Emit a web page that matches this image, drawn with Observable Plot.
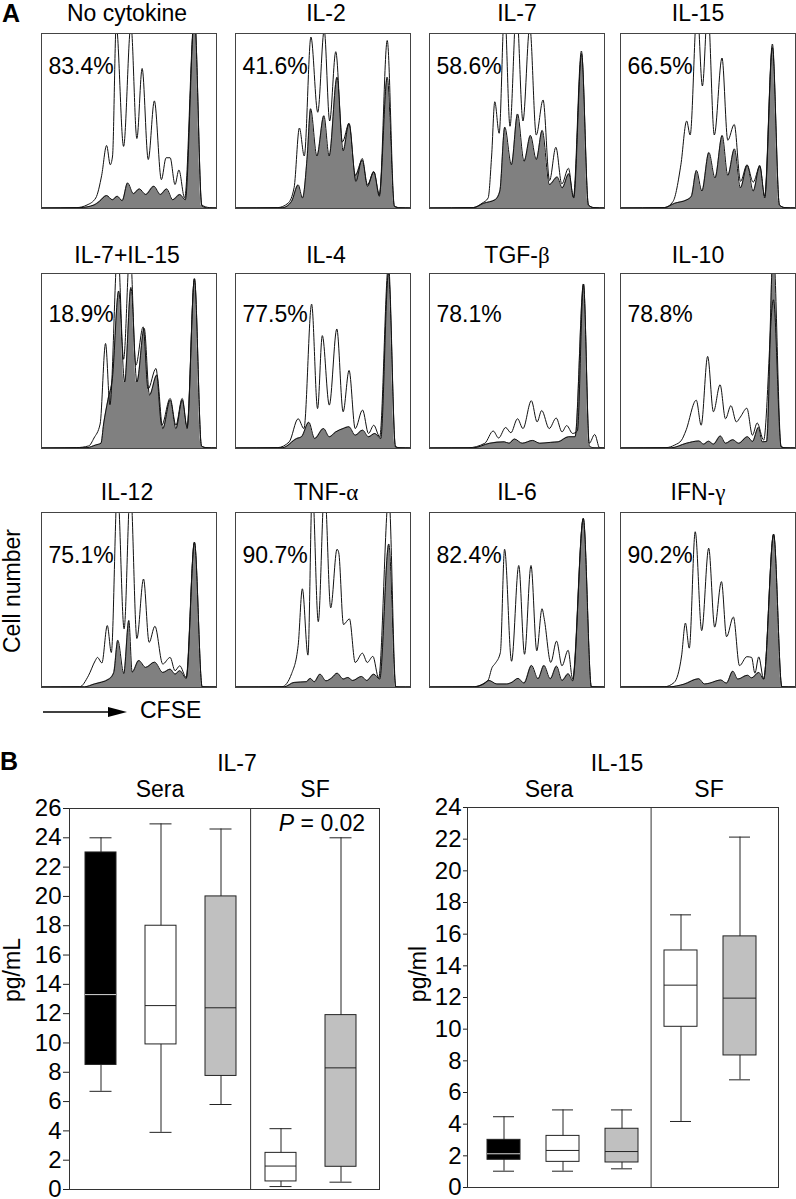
<!DOCTYPE html>
<html><head><meta charset="utf-8">
<script src="https://cdn.jsdelivr.net/npm/d3@7"></script>
<script src="https://cdn.jsdelivr.net/npm/@observablehq/plot@0.6"></script>
<style>
body{margin:0;background:#fff;}
#root{position:relative;width:796px;height:1199px;overflow:hidden;background:#fff;}
</style></head><body><div id="root"></div>
<script>
// ---------- Panel A data ----------
const panelTitles = ["No cytokine","IL-2","IL-7","IL-15","IL-7+IL-15","IL-4","TGF-β","IL-10","IL-12","TNF-α","IL-6","IFN-γ"];
const panelPercents = ["83.4%","41.6%","58.6%","66.5%","18.9%","77.5%","78.1%","78.8%","75.1%","90.7%","82.4%","90.2%"];

// CFSE channel (0-100) vs relative cell number (0-100); open (white) histograms
const outlineCurves = [
 [[0,0.3],[20,0.5],[26,2],[31,6],[34.4,19],[37.2,36],[39.3,25],[40.6,30],[42.7,105],[46.9,35.5],[51.1,105],[54.5,40],[57.5,80],[61,28],[64.5,61.5],[68.5,16.5],[71.2,29],[73.5,29],[76.3,13.7],[78.5,22],[81.8,6],[87.4,110],[91.6,2],[96,0.5],[100,0.3]],
 [[0,0.3],[24,0.5],[30,3],[33.5,12],[36.5,46],[39.3,30],[43.1,98],[47,55],[50.7,102],[53.8,50],[57.3,89.6],[61.1,38],[64.9,48.6],[68.8,15.5],[72.4,28.6],[75.4,13.7],[79.1,21],[82.2,7],[86.7,96],[90.8,1.3],[94,0.4],[100,0.3]],
 [[0,0.3],[25,0.5],[30,3],[33.5,6],[35.5,30],[37.3,61],[39.8,43],[42.9,115],[46,47],[49.7,115],[53.4,50],[57.3,104],[61,42],[64.9,62],[68.6,16],[72.2,35],[75.6,14],[79.4,23],[82.2,6.5],[86.8,90],[90.8,2],[94,0.5],[100,0.3]],
 [[0,0.3],[25,0.5],[30,4],[34.5,25],[37.8,50],[39.8,42],[43.8,115],[46.8,70],[49.9,115],[53.6,42],[58,86],[61.3,39],[65,48],[68.6,15.5],[72.3,25],[75.8,15],[79.6,24],[82.4,7],[86.8,94],[90.8,2],[94,0.5],[100,0.3]],
 [[0,0.3],[20,0.5],[27,1.5],[30,6],[33.5,14],[36.6,60],[39.1,25],[43.6,115],[46.9,51],[50.6,115],[53.9,47.6],[58.1,69.5],[60.9,34],[65.4,45.7],[68.7,13.3],[73.5,28.6],[76.8,13.3],[80.4,28.6],[83.2,12.4],[87.4,97],[91.4,1.5],[94,0.5],[100,0.3]],
 [[0,0.3],[24,0.5],[30.7,3.8],[35.8,17],[39.1,11.4],[43.5,82.5],[46.9,22.8],[49.6,64.5],[53.6,24.8],[57.9,68.3],[61.5,21],[64.9,44.6],[68.4,11.4],[72.6,22],[76,8.6],[79,13.3],[82.4,6.7],[87.4,105],[91.4,1],[94,0.4],[100,0.3]],
 [[0,0.3],[22,0.4],[31.6,3],[36.4,10],[39.5,6],[43.5,12],[46.5,9],[50.3,17],[53.4,11.4],[58.2,27.3],[61.5,15.2],[64.1,21.7],[68.4,11.4],[72.4,17.4],[75.7,9.5],[78.4,13.1],[81.8,8.6],[84.5,10],[88,94],[91.3,3],[94.4,8],[97.2,0.4],[100,0.3]],
 [[0,0.3],[26,0.5],[31,2],[34.9,4.8],[37.3,10],[43.3,27.6],[46.1,13.3],[49.8,52.6],[53.1,21],[56.9,36.4],[60,17],[63.1,24.5],[66.2,15.2],[68.5,18],[72.2,23],[75.4,7.6],[78.1,14.6],[81.8,4.8],[87.4,85],[91.8,1],[94,0.4],[100,0.3]],
 [[0,0.3],[21.8,0.4],[26.8,6.7],[30.7,15.3],[32,17.2],[34.5,14],[37.6,35.4],[39.9,20],[43.4,115],[47.2,33.5],[50.8,115],[54.5,28],[58.3,62],[61.5,25.8],[64.8,35],[69.3,13.4],[73.5,17.2],[76.3,9.6],[79,12.4],[82.7,5.7],[87.4,83],[91.8,0.4],[94,0.3],[100,0.3]],
 [[0,0.3],[26.5,0.4],[32.1,8],[35.8,24],[38.2,56.4],[41.4,18.5],[43.9,115],[47.3,37.6],[50.9,115],[54.4,45.5],[58,79],[59,77],[61.7,36],[65.1,39.2],[68.4,14.3],[72.5,19.6],[75.3,14.3],[78.5,17.8],[81.8,5.4],[87.6,110],[91.6,0.4],[94,0.3],[100,0.3]],
 [[0,0.3],[24.6,0.4],[33.3,3.9],[35.8,11.5],[37.5,13.7],[40.5,20],[42.9,79],[46.9,15],[51,69.7],[54.3,19],[58,69.7],[61.3,21],[64.3,45],[65.6,39],[69.3,14.3],[72.6,26.5],[75.7,12.4],[79.2,21.3],[81.8,4.8],[87.9,96.6],[92.5,0.4],[100,0.3]],
 [[0,0.3],[25,0.4],[30.7,2.9],[34.9,18],[37.1,36.8],[39.3,22.5],[42.7,89],[46.4,32.5],[50.4,79.6],[53.8,34.5],[57.7,60.5],[60.6,29],[64.5,40.3],[68,12.5],[72.2,17.6],[74.9,17.2],[76.8,8.2],[79,17.5],[81.8,4.8],[87.5,87.6],[92.2,0.4],[100,0.3]]
];

// filled (grey) histograms
const shadedCurves = [
 [[0,0.3],[22,0.5],[30,2],[33,4],[37.2,7.4],[40.5,5],[43.3,7],[46.1,4.5],[49.2,14.6],[52.5,8.5],[55.9,11.2],[59.5,8],[64.2,12.7],[67.9,8],[71.5,11.2],[75,5],[79,8],[82.2,5],[87.4,110],[91.6,1.5],[95,0.3],[100,0.3]],
 [[0,0.3],[27,0.5],[32,4],[35.8,13.5],[38.3,6],[41,30],[42.9,57],[46.5,30],[50.5,53],[53.5,30],[58,75],[61.5,33],[64.8,48.6],[68.5,19],[72.4,27.6],[75.4,12.7],[79,21],[82.2,8],[86.7,75],[90.8,1.3],[94,0.4],[100,0.3]],
 [[0,0.3],[25,0.5],[31,3],[37.5,5],[40.2,10],[43,46.5],[46.8,25],[50.3,54],[54,27],[57.7,41.7],[61,28],[64.4,44.6],[68.5,13.7],[73,18],[75.8,11.8],[79.6,19.8],[82.4,6],[86.9,88.4],[90.8,2],[94,0.5],[100,0.3]],
 [[0,0.3],[25,0.5],[31,3],[38,5],[40.5,7],[43.4,21.7],[46.5,10],[50.5,32],[54,17.5],[58.1,41.7],[61.3,19],[65.1,34],[68.5,11.8],[72.4,24.6],[75.8,10],[79.6,24.6],[82.4,6],[86.8,92],[90.8,2],[94,0.5],[100,0.3]],
 [[0,0.3],[26,0.5],[31,2],[34,3],[35.5,14],[38,28],[40.5,40],[44.1,90],[47.5,38],[51.1,92],[54.5,38],[58.7,68.6],[61.7,30.5],[65.9,42],[69.3,11.4],[73.5,27.6],[76.8,11.4],[80.4,27.6],[83.2,11.4],[87.4,97],[91.4,1.5],[94,0.5],[100,0.3]],
 [[0,0.3],[27,0.5],[35,5.7],[37.7,6.7],[41.9,15],[45.2,5.7],[50.3,11.4],[53.6,6.7],[57.3,9.5],[61.5,11.4],[64.8,12.4],[68.4,7.6],[72.6,10.5],[76,6.7],[79.6,8.6],[83,5.7],[87.4,100],[91.4,1],[94,0.4],[100,0.3]],
 [[0,0.3],[25,0.4],[34.4,3],[42.7,3.8],[45.5,3],[48.6,5.4],[53,3],[58.9,4.6],[63,3],[69,3.5],[73.5,3.8],[79.5,6.7],[83.2,6.7],[88,94],[91.3,1.5],[94,0.4],[100,0.3]],
 [[0,0.3],[29,0.4],[37.7,3],[44.8,4.3],[47.5,2.5],[50.3,4.2],[53.1,2.5],[57.1,7.1],[60,3],[64.2,5],[67.5,3],[72.6,6.7],[75.4,4],[78.8,12],[81,3.8],[83.5,4],[87.3,115],[91.8,1],[94,0.4],[100,0.3]],
 [[0,0.3],[24.6,0.4],[30.2,2],[38.5,4.8],[41.3,8.6],[43.6,27],[47,8],[49.9,38.3],[51.8,8.8],[55.6,15.4],[59.5,11.5],[64.6,14.5],[69.3,8.6],[73.5,10.5],[76.3,7.6],[79,9.6],[82.7,5.2],[87.4,83],[91.8,0.4],[100,0.3]],
 [[0,0.3],[27.9,0.4],[33.5,2.9],[40.5,3.3],[42.7,5.2],[45,3.3],[48.3,7.6],[51.7,3.8],[55,5.5],[58.1,8.2],[61.5,4.8],[64.2,5.7],[67,4],[72,6.3],[75,4],[79,7.6],[82.4,4.8],[87.6,82],[91.6,0.4],[94,0.3],[100,0.3]],
 [[0,0.3],[26,0.4],[31,2],[34,4],[38.5,2],[44,2],[47.2,3],[50.6,5.2],[54,2.5],[58.3,12.6],[62,5],[65.4,12.6],[69,5],[72.6,12.2],[75.7,4],[79.3,7.8],[81.8,3.8],[87.9,96.6],[92.5,0.4],[100,0.3]],
 [[0,0.3],[27.9,0.4],[36.3,1.9],[44.7,5],[48,2],[51,2.5],[57.3,4.3],[60.5,2.5],[64.2,9.3],[67,4.8],[72.6,7],[75,5.5],[79,8.6],[81.8,4.8],[87.5,87.6],[92.2,0.4],[100,0.3]]
];

// ---------- Panel B data ----------
const boxCategories = ["Sera 1","Sera 2","Sera 3","SF 1","SF 2"];
const boxFills = ["black","white","#c0c0c0","white","#c0c0c0"];
const il7Low    = [6.7, 3.9, 5.8, 0.2, 0.5];
const il7Q1     = [8.5, 9.9, 7.75, 0.55, 1.55];
const il7Median = [13.3, 12.55, 12.4, 1.6, 8.3];
const il7Q3     = [23.0, 18.0, 20.0, 2.5, 11.9];
const il7High   = [24.0, 24.95, 24.6, 4.15, 24.0];
const il15Low    = [1.03, 1.03, 1.18, 4.17, 6.8];
const il15Q1     = [1.75, 1.62, 1.58, 10.15, 8.34];
const il15Median = [2.13, 2.34, 2.27, 12.78, 11.96];
const il15Q3     = [3.01, 3.26, 3.71, 14.97, 15.86];
const il15High   = [4.47, 4.9, 4.9, 17.22, 22.13];
const il7Ticks = d3.range(0, 27, 2);
const il15Ticks = d3.range(0, 25, 2);

// ---------- layout ----------
const FONT = "'Liberation Sans', Arial, sans-serif";
const root = document.getElementById("root");
const colLefts = [41, 235, 429, 620];
const titleCenters = [127, 326, 517, 698];
const rowTops = [33, 273, 512];
const pctBaseline = [40, 48, 50];
const titleBaseline = [21, 263, 500];

function place(el, left, top) {
  el.style.position = "absolute";
  el.style.left = left + "px";
  el.style.top = top + "px";
  el.style.maxWidth = "none";
  root.appendChild(el);
}

for (let i = 0; i < 12; i++) {
  const row = Math.floor(i / 4), col = i % 4;
  const outline = outlineCurves[i].map(([x, y]) => ({x, y}));
  const shaded = shadedCurves[i].map(([x, y]) => ({x, y}));
  const svg = Plot.plot({
    width: 177, height: 177, margin: 1,
    x: {domain: [0, 100], axis: null},
    y: {domain: [0, 100], axis: null},
    style: {background: "transparent", fontFamily: FONT, overflow: "visible"},
    marks: [
      Plot.areaY(outline, {x: "x", y: "y", curve: "monotone-x", fill: "white", clip: true}),
      Plot.areaY(shaded, {x: "x", y: "y", curve: "monotone-x", fill: "#808080", clip: true}),
      Plot.lineY(shaded, {x: "x", y: "y", curve: "monotone-x", stroke: "#111", strokeWidth: 1, clip: true}),
      Plot.lineY(outline, {x: "x", y: "y", curve: "monotone-x", stroke: "#111", strokeWidth: 1, clip: true}),
      Plot.frame({stroke: "#444"}),
      Plot.text([panelPercents[i]], {frameAnchor: "top-left", text: d => d, dx: 7, dy: pctBaseline[row],
        textAnchor: "start", lineAnchor: "bottom", fontSize: 23, fill: "#000"})
    ]
  });
  place(svg, colLefts[col] - 1, rowTops[row] - 1);
}

function boxPlot(low, q1, med, q3, high, ticks, opts) {
  const rows = boxCategories.map((c, i) => ({cat: c, low: low[i], q1: q1[i], med: med[i], q3: q3[i], high: high[i], fill: boxFills[i]}));
  const step = opts.bandwidth / (1 - opts.paddingInner);
  return Plot.plot({
    width: opts.width, height: 419,
    marginLeft: opts.ml, marginRight: opts.mr, marginTop: opts.mt, marginBottom: opts.mb,
    x: {type: "band", domain: boxCategories, range: opts.range, paddingInner: opts.paddingInner, paddingOuter: 0, axis: null},
    y: {domain: [0, ticks[ticks.length - 1]]},
    color: {type: "identity"},
    style: {background: "transparent", fontFamily: FONT, fontSize: "24px", color: "#000", overflow: "visible"},
    marks: [
      Plot.ruleX(rows, {x: "cat", y1: "low", y2: "high", stroke: "#222"}),
      Plot.tickY(rows, {x: "cat", y: "low", stroke: "#222", inset: opts.capInset}),
      Plot.tickY(rows, {x: "cat", y: "high", stroke: "#222", inset: opts.capInset}),
      Plot.barY(rows, {x: "cat", y1: "q1", y2: "q3", fill: "fill", stroke: "#222", strokeWidth: 1}),
      Plot.tickY(rows, {x: "cat", y: "med", stroke: d => d.fill === "black" ? "#d8d8d8" : "#222"}),
      Plot.ruleX([boxCategories[3]], {x: d => d, dx: -step / 2, stroke: "#333"}),
      Plot.frame({stroke: "#333"}),
      Plot.axisY(ticks, {tickSize: opts.tickSize, tickPadding: 2, label: null, stroke: "#222"})
    ]
  });
}

place(boxPlot(il7Low, il7Q1, il7Median, il7Q3, il7High, il7Ticks,
  {width: 390, ml: 69, mr: 11, mt: 28, mb: 10, range: [82.5, 357.5], paddingInner: 0.49, bandwidth: 31, capInset: 4.5, tickSize: 6}), 0, 780);
place(boxPlot(il15Low, il15Q1, il15Median, il15Q3, il15High, il15Ticks,
  {width: 406, ml: 77, mr: 18, mt: 27, mb: 12, range: [95.5, 367.5], paddingInner: 0.448, bandwidth: 33, capInset: 6, tickSize: 4}), 390, 780);

// ---------- annotation layer ----------
const overlay = d3.create("svg").attr("width", 796).attr("height", 1199)
  .attr("font-family", FONT)
  .style("position", "absolute").style("left", "0px").style("top", "0px").style("pointer-events", "none");

function label(txt, x, y, o = {}) {
  const t = overlay.append("text")
    .attr("text-anchor", o.anchor || "middle")
    .attr("font-size", o.size || 23)
    .attr("font-weight", o.weight || "normal")
    .attr("fill", "#000")
    .attr("transform", `translate(${x},${y})` + (o.rotate ? ` rotate(${o.rotate})` : ""));
  const parts = txt.split(/([\u0370-\u03ff])/).filter(s => s.length);
  for (const p of parts) {
    const s = t.append("tspan").text(p);
    if (/[\u0370-\u03ff]/.test(p)) s.attr("font-family", "'Liberation Serif', 'DejaVu Serif', serif");
  }
  return t;
}

label("A", 2, 22, {anchor: "start", weight: "bold", size: 25});
for (let i = 0; i < 12; i++) {
  const row = Math.floor(i / 4), col = i % 4;
  label(panelTitles[i], titleCenters[col], titleBaseline[row]);
}
label("Cell number", 20, 591, {rotate: -90});
overlay.append("line").attr("x1", 43).attr("x2", 112).attr("y1", 712).attr("y2", 712).attr("stroke", "#000").attr("stroke-width", 1.5);
overlay.append("path").attr("d", "M108,707 L127,712 L108,717 Z").attr("fill", "#000");
label("CFSE", 140, 718, {anchor: "start"});

label("B", 0, 770, {anchor: "start", weight: "bold", size: 25});
label("IL-7", 237, 771);
label("Sera", 160, 797);
label("SF", 315, 797);
const p = overlay.append("text").attr("text-anchor", "middle").attr("font-size", 23).attr("transform", "translate(322,831)");
p.append("tspan").attr("font-style", "italic").text("P");
p.append("tspan").text(" = 0.02");
label("pg/mL", 20, 970, {rotate: -90});

label("IL-15", 617, 771);
label("Sera", 549, 797);
label("SF", 709, 797);
label("pg/ml", 426, 974, {rotate: -90});

root.appendChild(overlay.node());
</script></body></html>
